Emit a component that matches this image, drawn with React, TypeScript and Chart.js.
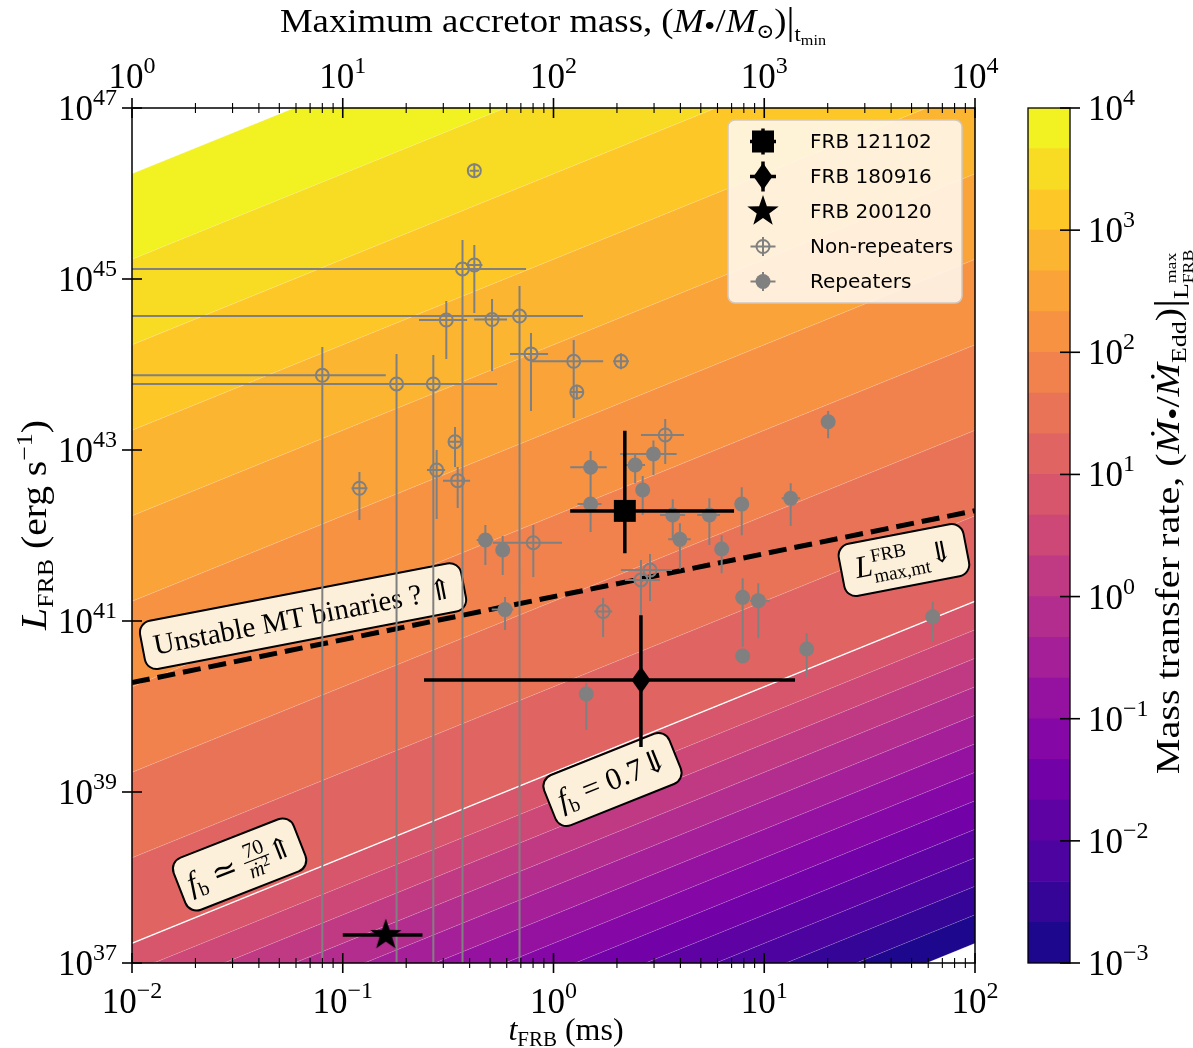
import React, { useEffect, useRef } from "react";
import { Chart, registerables } from "chart.js";
Chart.register(...registerables);

// ---------------- data ----------------
// contour levels of (Mdot / Mdot_Edd), exponent, 1/3 dex apart
const levelExps = [-3, -2.667, -2.333, -2, -1.667, -1.333, -1, -0.667, -0.333, 0, 0.333, 0.667, 1, 1.333, 1.667, 2, 2.333, 2.667, 3, 3.333, 3.667, 4];
// log10 L (erg/s) of each contour at t_FRB = 1 ms (contours run as L ∝ t)
const contourLogL1ms = [35.23, 35.563, 35.897, 36.23, 36.563, 36.897, 37.23, 37.563, 37.897, 38.23, 38.563, 38.897, 39.23, 40.23, 41.23, 42.23, 43.23, 44.23, 45.23, 46.23, 47.23, 48.23];
const WHITE_CONTOUR = 12; // f_b boundary (white line)

// L^FRB_max,mt dashed line
const dashT = [0.01, 100];
const dashL = [1.9e40, 1.95e42];

// Non-repeaters
const nrT = [0.421, 0.37, 0.421, 0.31, 0.511, 0.69, 0.782, 1.247, 2.09, 1.29, 0.08, 0.18, 0.269, 0.12, 0.341, 0.279, 0.351, 0.802, 3.39, 2.87, 2.6, 1.72];
const nrTLo = [0.4, 0.001, 0.385, 0.23, 0.42, 0.001, 0.622, 0.782, 1.92, 1.2, 0.001, 0.001, 0.135, 0.11, 0.316, 0.251, 0.299, 0.516, 2.6, 2.09, 2.18, 1.56];
const nrTHi = [0.443, 0.741, 0.46, 0.389, 0.602, 1.38, 0.942, 1.72, 2.28, 1.38, 0.16, 0.402, 0.54, 0.131, 0.368, 0.306, 0.402, 1.097, 4.16, 3.65, 3.2, 1.9];
const nrL = [1.85e46, 1.31e45, 1.46e45, 3.31e44, 3.36e44, 3.69e44, 1.33e44, 1.09e44, 1.09e44, 4.76e43, 7.48e43, 5.92e43, 5.92e43, 3.57e42, 1.25e43, 5.83e42, 4.38e42, 8.24e41, 1.5e43, 3.94e41, 3.02e41, 1.29e41];
const nrLLo = [1.53e46, 1e30, 4.0e44, 1.16e44, 8.4e43, 1e30, 2.86e43, 2.37e43, 8.8e43, 3.9e43, 1e30, 1e30, 1e30, 1.52e42, 6.32e42, 1.56e42, 2.1e42, 3.27e41, 6.85e42, 1.71e41, 1.17e41, 6.5e40];
const nrLHi = [2.24e46, 2.86e45, 2.5e45, 5.53e44, 5.83e44, 8.28e44, 2.33e44, 1.94e44, 1.35e44, 5.8e43, 1.6e44, 1.33e44, 1.29e44, 5.53e42, 1.86e43, 1.0e43, 6.32e42, 1.33e42, 2.31e43, 6.08e41, 5.16e41, 1.86e41];

// Repeaters
const rpT = [1.5, 1.5, 2.44, 2.98, 2.65, 3.68, 5.49, 3.98, 6.28, 7.82, 13.35, 20.1, 7.9, 7.9, 9.37, 15.9, 1.43, 63.0, 0.475, 0.574, 0.589];
const rpTLo = [1.2, 1.3, 2.18, 2.07, 2.5, 3.2, 4.81, 3.5, 6.0, 7.6, 12.1, 19.5, 7.7, 7.9, 8.56, 15.6, 1.43, 63.0, 0.432, 0.56, 0.509];
const rpTHi = [1.79, 1.69, 2.72, 3.84, 2.8, 4.21, 6.17, 4.48, 6.6, 8.05, 14.8, 20.7, 8.1, 7.9, 10.65, 16.2, 1.43, 63.0, 0.518, 0.59, 0.645];
const rpL = [6.28e42, 2.33e42, 6.68e42, 8.97e42, 3.4e42, 1.74e42, 1.74e42, 9.02e41, 6.95e41, 2.33e42, 2.72e42, 2.14e43, 1.89e41, 3.9e40, 1.73e41, 4.71e40, 1.4e40, 1.12e41, 8.85e41, 6.76e41, 1.36e41];
const rpLLo = [3.4e42, 1.1e42, 4.11e42, 5.1e42, 1.74e42, 8.85e41, 7.74e41, 4.03e41, 3.61e41, 1.01e42, 1.29e42, 1.37e43, 5.0e40, 3.9e40, 6.28e40, 2.23e40, 5.3e39, 5.73e40, 4.52e41, 3.45e41, 7.85e40];
const rpLHi = [9.73e42, 3.4e42, 8.75e42, 1.29e43, 4.97e42, 2.65e42, 2.72e42, 1.39e42, 1.01e42, 3.67e42, 4.08e42, 2.86e43, 3.16e41, 3.9e40, 2.76e41, 7.18e40, 1.9e40, 1.68e41, 1.33e42, 9.86e41, 1.91e41];

// Highlighted FRBs: 121102, 180916, 200120
const hiNames = ["FRB 121102", "FRB 180916", "FRB 200120"];
const hiT = [2.18, 2.6, 0.16];
const hiTLo = [1.2, 0.243, 0.1];
const hiTHi = [7.19, 14.0, 0.239];
const hiL = [1.94e42, 2.04e40, 2.12e37];
const hiLLo = [6.2e41, 3.36e39, 2.12e37];
const hiLHi = [1.68e43, 1.17e41, 2.12e37];

// tick values
const xMajor = [0.01, 0.1, 1, 10, 100];
const x2Major = [1, 10, 100, 1000, 10000];
const yMajor = [1e37, 1e39, 1e41, 1e43, 1e45, 1e47];
const xLabels = ["-2", "-1", "0", "1", "2"];
const x2Labels = ["0", "1", "2", "3", "4"];
const yLabels = ["37", "39", "41", "43", "45", "47"];
const cbMajor = [1e-3, 1e-2, 1e-1, 1, 10, 100, 1000, 10000];
const cbLabels = ["-3", "-2", "-1", "0", "1", "2", "3", "4"];

// annotation boxes: anchor (t, L), angle, width, height
const annoT = [0.0648, 46.0, 1.905, 0.0324];
const annoL = [1.14e41, 5.16e41, 1.4e39, 1.42e38];
const annoAng = [10.9, 10.9, 21.8, 21.4];
const annoW = [327, 127, 135, 129];
const annoH = [49, 53, 54, 56];

// ---------------- styling helpers ----------------
const GRAY = "#808080";
const SERIF = '"Liberation Serif", "DejaVu Serif", serif';
const SANS = '"DejaVu Sans", sans-serif';
const BOX_FILL = "#fcf0da";

const PLASMA: number[][] = [
  [0, 13, 8, 135], [1 / 9, 71, 3, 159], [2 / 9, 115, 1, 168], [0.25, 126, 3, 168],
  [1 / 3, 156, 23, 158], [4 / 9, 189, 55, 134], [0.5, 204, 70, 120], [5 / 9, 216, 87, 107],
  [2 / 3, 237, 121, 83], [0.75, 248, 148, 65], [7 / 9, 250, 158, 59], [8 / 9, 253, 201, 38], [1, 240, 249, 33],
];
function plasma(v: number): string {
  v = Math.max(0, Math.min(1, v));
  for (let i = 1; i < PLASMA.length; i++) {
    const a = PLASMA[i - 1], b = PLASMA[i];
    if (v <= b[0]) {
      const f = (v - a[0]) / (b[0] - a[0]);
      const c = [1, 2, 3].map((j) => Math.round(a[j] + (b[j] - a[j]) * f));
      return `rgb(${c[0]},${c[1]},${c[2]})`;
    }
  }
  return "rgb(240,249,33)";
}
const bandColor = (k: number) => plasma((k + 0.59) / 21);

type Seg = { t: string; s: number; it?: boolean; dy?: number; over?: boolean; f?: string };
function fontOf(g: Seg) {
  return `${g.it ? "italic " : ""}${g.s}px ${g.f || SERIF}`;
}
function richWidth(ctx: CanvasRenderingContext2D, segs: Seg[]) {
  let w = 0, pend = 0;
  for (const g of segs) {
    ctx.font = fontOf(g);
    const gw = ctx.measureText(g.t).width;
    if (g.over) { pend = gw; continue; }
    w += Math.max(gw, pend);
    pend = 0;
  }
  return w;
}
function drawRich(ctx: CanvasRenderingContext2D, segs: Seg[], x: number, y: number, align: "left" | "center" | "right") {
  const w = richWidth(ctx, segs);
  let cx = align === "center" ? x - w / 2 : align === "right" ? x - w : x;
  let pend = 0;
  ctx.textAlign = "left";
  ctx.textBaseline = "alphabetic";
  for (const g of segs) {
    ctx.font = fontOf(g);
    const gw = ctx.measureText(g.t).width;
    ctx.fillText(g.t, cx, y + (g.dy || 0));
    if (g.over) { pend = gw; continue; }
    cx += Math.max(gw, pend);
    pend = 0;
  }
}
// horizontally stretched rich text (Computer Modern is wider than the installed serif)
function drawRichX(ctx: CanvasRenderingContext2D, segs: Seg[], x: number, y: number, sx: number) {
  ctx.save();
  ctx.translate(x, y);
  ctx.scale(sx, 1);
  drawRich(ctx, segs, 0, 0, "center");
  ctx.restore();
}
const TS = 35, TSUP = 24;
const tickSegs = (e: string): Seg[] => [{ t: "10", s: TS }, { t: e.replace("-", "\u2212"), s: TSUP, dy: -15 }];

function line(ctx: CanvasRenderingContext2D, x1: number, y1: number, x2: number, y2: number, w: number) {
  ctx.lineWidth = w;
  ctx.beginPath();
  ctx.moveTo(x1, y1);
  ctx.lineTo(x2, y2);
  ctx.stroke();
}

function starPath(g: CanvasRenderingContext2D, cx: number, cy: number, R: number, r: number) {
  g.beginPath();
  for (let i = 0; i < 10; i++) {
    const rad = i % 2 === 0 ? R : r;
    const a = -Math.PI / 2 + (i * Math.PI) / 5;
    const px = cx + rad * Math.cos(a), py = cy + rad * Math.sin(a);
    if (i === 0) g.moveTo(px, py); else g.lineTo(px, py);
  }
  g.closePath();
}
function diamondPath(g: CanvasRenderingContext2D, cx: number, cy: number, hw: number, hh: number) {
  g.beginPath();
  g.moveTo(cx, cy - hh); g.lineTo(cx + hw, cy); g.lineTo(cx, cy + hh); g.lineTo(cx - hw, cy);
  g.closePath();
}
function makeMarker(kind: "star" | "diamond"): HTMLCanvasElement {
  const c = document.createElement("canvas");
  c.width = 36; c.height = 36;
  const g = c.getContext("2d")!;
  g.fillStyle = "#000";
  if (kind === "star") starPath(g, 18, 18, 16.5, 6.6);
  else diamondPath(g, 18, 18, 9.5, 13.5);
  g.fill();
  return c;
}

function errPoints(t: number[], tLo: number[], tHi: number[], L: number[], LLo: number[], LHi: number[]) {
  const pts: { x: number; y: number | null }[] = [];
  for (let i = 0; i < t.length; i++) {
    if (tLo[i] !== tHi[i]) pts.push({ x: tLo[i], y: L[i] }, { x: tHi[i], y: L[i] }, { x: t[i], y: null });
    if (LLo[i] !== LHi[i]) pts.push({ x: t[i], y: LLo[i] }, { x: t[i], y: LHi[i] }, { x: t[i], y: null });
  }
  return pts;
}

// ---------------- decorations ----------------
function drawBoxes(chart: any) {
  const ctx: CanvasRenderingContext2D = chart.ctx;
  const xs = chart.scales.x, ys = chart.scales.y;
  const contents: ((c: CanvasRenderingContext2D) => void)[] = [
    (c) => drawRich(c, [{ t: "Unstable MT binaries ? \u21D1", s: 29 }], 0, 10, "center"),
    (c) => drawRich(c, [{ t: "L", s: 31, it: true }, { t: "FRB", s: 19, dy: -13, over: true }, { t: "max,mt", s: 19, dy: 8 }, { t: "\u21D3", s: 29 }], 0, 9, "center"),
    (c) => drawRich(c, [{ t: "f", s: 31, it: true }, { t: "b", s: 20, dy: 6 }, { t: " = 0.7\u21D3", s: 31 }], 0, 10, "center"),
    (c) => {
      const left: Seg[] = [{ t: "f", s: 31, it: true }, { t: "b", s: 20, dy: 6 }, { t: " \u2243 ", s: 31 }];
      const num: Seg[] = [{ t: "70", s: 21 }];
      const den: Seg[] = [{ t: "\u1E41", s: 21, it: true }, { t: "2", s: 15, dy: -7 }];
      const arrow: Seg[] = [{ t: "\u21D1", s: 29 }];
      const wl = richWidth(c, left), wn = richWidth(c, num), wd = richWidth(c, den), wa = richWidth(c, arrow);
      const wf = Math.max(wn, wd) + 4;
      const tot = wl + wf + wa;
      let x = -tot / 2;
      const base = 10;
      drawRich(c, left, x, base, "left");
      x += wl;
      c.strokeStyle = "#000";
      line(c, x, base - 9, x + wf, base - 9, 1.1);
      drawRich(c, num, x + wf / 2, base - 13, "center");
      drawRich(c, den, x + wf / 2, base + 8, "center");
      x += wf;
      drawRich(c, arrow, x, base, "left");
    },
  ];
  for (let i = 0; i < annoT.length; i++) {
    const cx = xs.getPixelForValue(annoT[i]);
    const cy = ys.getPixelForValue(annoL[i]);
    ctx.save();
    ctx.translate(cx, cy);
    ctx.rotate((-annoAng[i] * Math.PI) / 180);
    ctx.beginPath();
    (ctx as any).roundRect(-annoW[i] / 2, -annoH[i] / 2, annoW[i], annoH[i], 12);
    ctx.fillStyle = BOX_FILL;
    ctx.fill();
    ctx.lineWidth = 2;
    ctx.strokeStyle = "#000";
    ctx.stroke();
    ctx.fillStyle = "#000";
    contents[i](ctx);
    ctx.restore();
  }
}

function drawLegend(ctx: CanvasRenderingContext2D) {
  ctx.save();
  ctx.beginPath();
  (ctx as any).roundRect(728, 120, 234, 183, 7);
  ctx.fillStyle = "rgba(255,248,240,0.88)";
  ctx.fill();
  ctx.strokeStyle = "rgb(210,200,190)";
  ctx.lineWidth = 1.5;
  ctx.stroke();
  const mx = 763, tx = 810;
  const rows = [141.5, 176.5, 211.5, 246.5, 281.5];
  const labels = [...hiNames, "Non-repeaters", "Repeaters"];
  ctx.fillStyle = "#000";
  ctx.strokeStyle = "#000";
  line(ctx, mx - 13, rows[0], mx + 13, rows[0], 3.5);
  line(ctx, mx, rows[0] - 13, mx, rows[0] + 13, 3.5);
  ctx.fillRect(mx - 11, rows[0] - 11, 22, 22);
  line(ctx, mx - 13, rows[1], mx + 13, rows[1], 3.5);
  line(ctx, mx, rows[1] - 15, mx, rows[1] + 15, 3.5);
  diamondPath(ctx, mx, rows[1], 9.5, 13.5);
  ctx.fill();
  starPath(ctx, mx, rows[2], 16.5, 6.6);
  ctx.fill();
  ctx.strokeStyle = GRAY;
  line(ctx, mx - 12.5, rows[3], mx + 12.5, rows[3], 2);
  line(ctx, mx, rows[3] - 9.5, mx, rows[3] + 9.5, 2);
  ctx.beginPath();
  ctx.arc(mx, rows[3], 6.5, 0, Math.PI * 2);
  ctx.lineWidth = 2;
  ctx.stroke();
  line(ctx, mx - 12.5, rows[4], mx + 12.5, rows[4], 2);
  line(ctx, mx, rows[4] - 9.5, mx, rows[4] + 9.5, 2);
  ctx.beginPath();
  ctx.arc(mx, rows[4], 7.5, 0, Math.PI * 2);
  ctx.fillStyle = GRAY;
  ctx.fill();
  ctx.fillStyle = "#000";
  ctx.font = `20px ${SANS}`;
  ctx.textAlign = "left";
  ctx.textBaseline = "middle";
  labels.forEach((s, i) => ctx.fillText(s, tx, rows[i] + 1));
  ctx.restore();
}

function drawAxes(chart: any) {
  const ctx: CanvasRenderingContext2D = chart.ctx;
  const { left, right, top, bottom } = chart.chartArea;
  const xs = chart.scales.x, x2 = chart.scales.x2, ys = chart.scales.y;
  ctx.save();
  ctx.strokeStyle = "#000";
  ctx.fillStyle = "#000";
  ctx.lineWidth = 1.5;
  ctx.strokeRect(left, top, right - left, bottom - top);
  xMajor.forEach((v, i) => {
    const px = xs.getPixelForValue(v);
    line(ctx, px, bottom - 10, px, bottom + 10, 1.6);
    drawRich(ctx, tickSegs(xLabels[i]), px, 1013, "center");
    if (i < xMajor.length - 1)
      for (let m = 2; m <= 9; m++) {
        const p = xs.getPixelForValue(v * m);
        line(ctx, p, bottom - 5, p, bottom + 5, 1.1);
      }
  });
  x2Major.forEach((v, i) => {
    const px = x2.getPixelForValue(v);
    line(ctx, px, top - 10, px, top + 10, 1.6);
    drawRich(ctx, tickSegs(x2Labels[i]), px, 88, "center");
    if (i < x2Major.length - 1)
      for (let m = 2; m <= 9; m++) {
        const p = x2.getPixelForValue(v * m);
        line(ctx, p, top - 5, p, top + 5, 1.1);
      }
  });
  yMajor.forEach((v, i) => {
    const py = ys.getPixelForValue(v);
    line(ctx, left - 10, py, left + 10, py, 1.6);
    drawRich(ctx, tickSegs(yLabels[i]), left - 15, py + 12, "right");
  });
  // titles
  drawRich(ctx, [{ t: "t", s: 32, it: true }, { t: "FRB", s: 21, dy: 6 }, { t: " (ms)", s: 32 }], 566, 1040, "center");
  drawRichX(ctx, [
    { t: "Maximum accretor mass, (", s: 34 }, { t: "M", s: 34, it: true }, { t: "\u2022", s: 30, dy: 4 },
    { t: "/", s: 34 }, { t: "M", s: 34, it: true }, { t: "\u2299", s: 20, dy: 6 }, { t: ")", s: 34 },
    { t: "|", s: 37, dy: 2 }, { t: "t", s: 21, dy: 9 }, { t: "min", s: 15, dy: 13 },
  ], 553, 32, 1.08);
  ctx.save();
  ctx.translate(35, 525);
  ctx.rotate(-Math.PI / 2);
  drawRichX(ctx, [
    { t: "L", s: 35, it: true }, { t: "FRB", s: 23, dy: 7 }, { t: " (erg s", s: 35 },
    { t: "\u22121", s: 23, dy: -14 }, { t: ")", s: 35 },
  ], 0, 11, 1.13);
  ctx.restore();
  ctx.restore();
}

const mainPlugin = {
  id: "mainDeco",
  afterDatasetDraw(chart: any, args: any) {
    if (args.index === 0) drawBoxes(chart);
  },
  afterDraw(chart: any) {
    drawAxes(chart);
    drawLegend(chart.ctx);
  },
};

const cbPlugin = {
  id: "cbDeco",
  afterDraw(chart: any) {
    const ctx: CanvasRenderingContext2D = chart.ctx;
    const { left, right, top, bottom } = chart.chartArea;
    const ys = chart.scales.y;
    ctx.save();
    ctx.strokeStyle = "#000";
    ctx.fillStyle = "#000";
    ctx.lineWidth = 1.3;
    ctx.strokeRect(left, top, right - left, bottom - top);
    cbMajor.forEach((v, i) => {
      const py = ys.getPixelForValue(v);
      line(ctx, right - 10, py, right + 10, py, 1.6);
      drawRich(ctx, tickSegs(cbLabels[i]), right + 18, py + 12, "left");
    });
    ctx.translate(168, 512);
    ctx.rotate(-Math.PI / 2);
    drawRichX(ctx, [
      { t: "Mass transfer rate, (", s: 34 }, { t: "\u1E40", s: 34, it: true }, { t: "\u2022", s: 30, dy: 4 },
      { t: "/", s: 34 }, { t: "\u1E40", s: 34, it: true }, { t: "Edd", s: 22, dy: 7 }, { t: ")", s: 34 },
      { t: "|", s: 37, dy: 2 }, { t: "L", s: 22, dy: 9 }, { t: "max", s: 15, dy: -3, over: true }, { t: "FRB", s: 15, dy: 14 },
    ], 0, 11, 1.18);
    ctx.restore();
  },
};

function mainConfig(): any {
  const bands = contourLogL1ms.map((u, k) => ({
    type: "line",
    data: [{ x: 1e-4, y: Math.pow(10, u - 4) }, { x: 1e4, y: Math.pow(10, u + 4) }],
    borderColor: k === WHITE_CONTOUR ? "#ffffff" : "rgba(255,255,255,0.25)",
    borderWidth: k === WHITE_CONTOUR ? 1.4 : 0.7,
    pointRadius: 0,
    fill: k < contourLogL1ms.length - 1 ? "+1" : false,
    backgroundColor: k < contourLogL1ms.length - 1 ? bandColor(k) : "rgba(0,0,0,0)",
    order: 1000,
  }));
  const others = [
    {
      type: "line",
      data: dashT.map((t, i) => ({ x: t, y: dashL[i] })),
      borderColor: "#000", borderWidth: 5, borderDash: [18, 8], pointRadius: 0, fill: false, order: 60,
    },
    {
      type: "line",
      data: errPoints(nrT, nrTLo, nrTHi, nrL, nrLLo, nrLHi).concat(errPoints(rpT, rpTLo, rpTHi, rpL, rpLLo, rpLHi)),
      borderColor: GRAY, borderWidth: 2, pointRadius: 0, fill: false, spanGaps: false, order: 50,
    },
    {
      type: "line", showLine: false,
      data: nrT.map((t, i) => ({ x: t, y: nrL[i] })),
      pointStyle: "circle", pointRadius: 6.5, pointBorderWidth: 2, pointBorderColor: GRAY,
      pointBackgroundColor: "rgba(0,0,0,0)", order: 40,
    },
    {
      type: "line", showLine: false,
      data: rpT.map((t, i) => ({ x: t, y: rpL[i] })),
      pointStyle: "circle", pointRadius: 7.5, pointBorderWidth: 0, pointBackgroundColor: GRAY, order: 39,
    },
    {
      type: "line",
      data: errPoints(hiT, hiTLo, hiTHi, hiL, hiLLo, hiLHi),
      borderColor: "#000", borderWidth: 3.5, pointRadius: 0, fill: false, spanGaps: false, order: 20,
    },
    {
      type: "line", showLine: false, data: [{ x: hiT[0], y: hiL[0] }],
      pointStyle: "rect", pointRadius: 15.5, pointBorderWidth: 0, pointBackgroundColor: "#000", order: 10,
    },
    {
      type: "line", showLine: false, data: [{ x: hiT[1], y: hiL[1] }],
      pointStyle: makeMarker("diamond"), pointRadius: 14, order: 10,
    },
    {
      type: "line", showLine: false, data: [{ x: hiT[2], y: hiL[2] }],
      pointStyle: makeMarker("star"), pointRadius: 16, order: 10,
    },
  ];
  return {
    type: "line",
    data: { datasets: [...bands, ...others] },
    options: {
      responsive: false,
      devicePixelRatio: 1,
      animation: false,
      events: [],
      layout: { padding: { left: 0, right: 218, top: 0, bottom: 0 } },
      plugins: { legend: { display: false }, tooltip: { enabled: false }, filler: { drawTime: "beforeDatasetsDraw" } },
      scales: {
        x: {
          type: "logarithmic", position: "bottom", min: 0.01, max: 100,
          ticks: { display: false }, grid: { display: false }, border: { display: false },
          afterFit: (s: any) => { s.height = 85; },
        },
        x2: {
          type: "logarithmic", position: "top", min: 1, max: 1e4,
          ticks: { display: false }, grid: { display: false }, border: { display: false },
          afterFit: (s: any) => { s.height = 108; },
        },
        y: {
          type: "logarithmic", position: "left", min: 1e37, max: 1e47,
          ticks: { display: false }, grid: { display: false }, border: { display: false },
          afterFit: (s: any) => { s.width = 132; },
        },
      },
    },
    plugins: [mainPlugin],
  };
}

function cbConfig(): any {
  const datasets = levelExps.slice(0, -1).map((e, k) => ({
    data: [[Math.pow(10, e), Math.pow(10, levelExps[k + 1])]],
    backgroundColor: bandColor(k),
    borderWidth: 0,
    grouped: false,
    barPercentage: 1,
    categoryPercentage: 1,
  }));
  return {
    type: "bar",
    data: { labels: ["cb"], datasets },
    options: {
      responsive: false,
      devicePixelRatio: 1,
      animation: false,
      events: [],
      layout: { padding: { left: 28, right: 0, top: 108, bottom: 85 } },
      plugins: { legend: { display: false }, tooltip: { enabled: false } },
      scales: {
        x: { display: false },
        y: {
          type: "logarithmic", position: "right", min: 1e-3, max: 1e4,
          ticks: { display: false }, grid: { display: false }, border: { display: false },
          afterFit: (s: any) => { s.width = 123; },
        },
      },
    },
    plugins: [cbPlugin],
  };
}

export default function App() {
  const mainRef = useRef<HTMLCanvasElement>(null);
  const cbRef = useRef<HTMLCanvasElement>(null);
  useEffect(() => {
    const c1 = new Chart(mainRef.current!, mainConfig());
    const c2 = new Chart(cbRef.current!, cbConfig());
    return () => {
      c1.destroy();
      c2.destroy();
    };
  }, []);
  return (
    <div style={{ position: "fixed", left: 0, top: 0, width: 1193, height: 1048, background: "#fff", overflow: "hidden" }}>
      <canvas ref={mainRef} width={1193} height={1048} style={{ position: "absolute", left: 0, top: 0, width: 1193, height: 1048 }} />
      <canvas ref={cbRef} width={193} height={1048} style={{ position: "absolute", left: 1000, top: 0, width: 193, height: 1048 }} />
    </div>
  );
}
